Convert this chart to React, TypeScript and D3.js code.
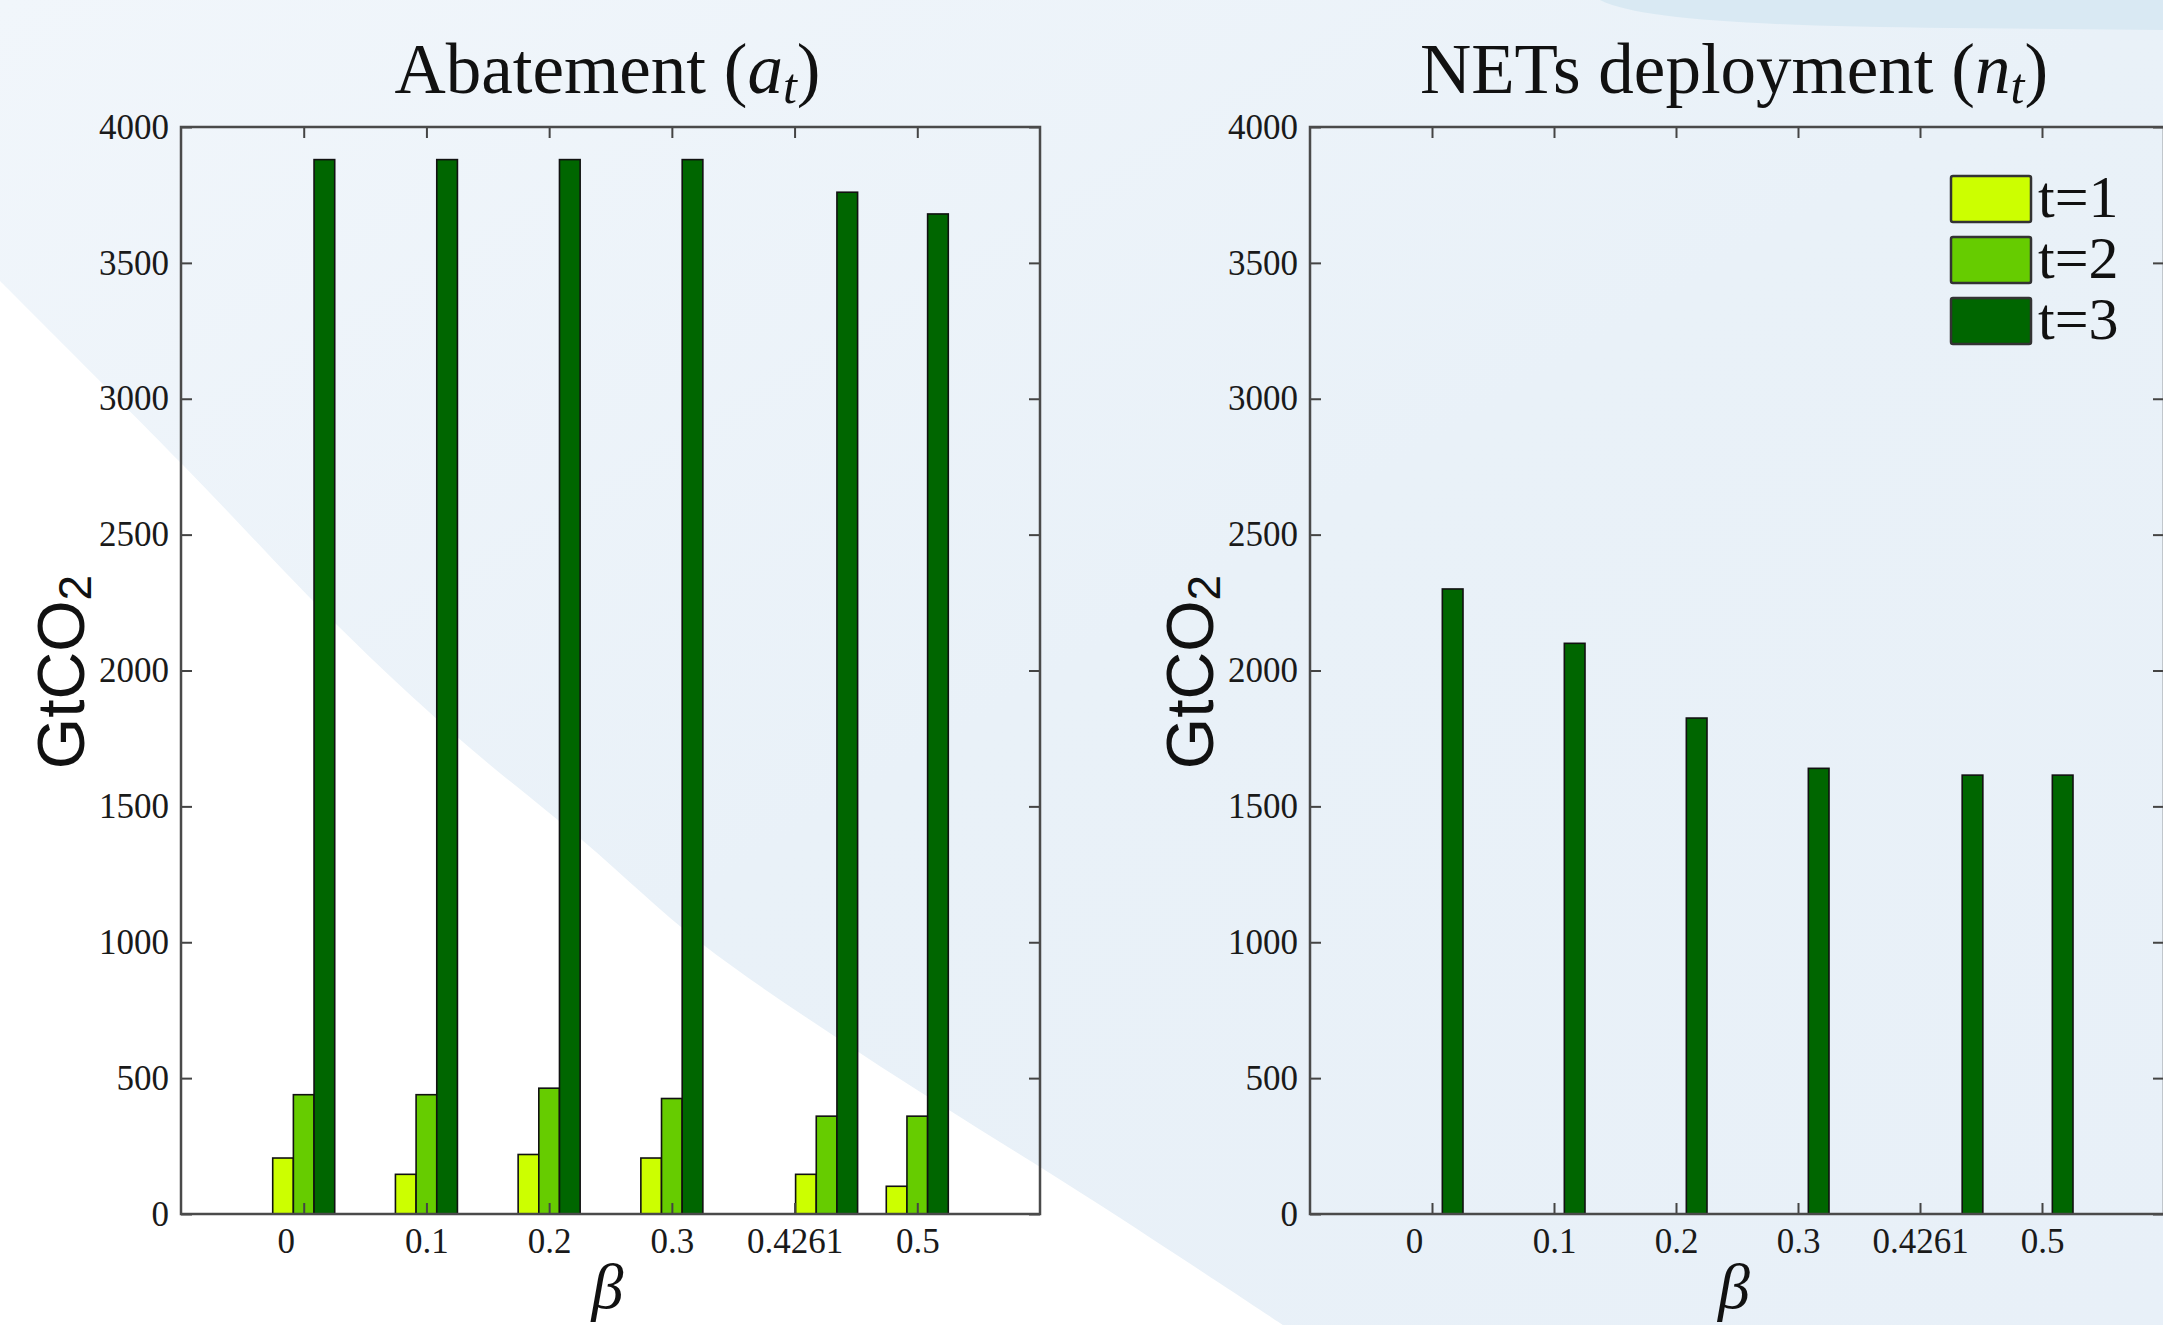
import * as d3 from 'd3';
import React, { useRef, useEffect } from 'react';

// beta values (bars are placed at these x values)
const betaValues = [0, 0.1, 0.2, 0.3, 0.4261, 0.5];
// tick positions and their (odd) labels
const xTickValues = [0, 0.1, 0.2, 0.3, 0.4, 0.5];
const xTickLabels = ['0', '0.1', '0.2', '0.3', '0.4261', '0.5'];
const yTickValues = [0, 500, 1000, 1500, 2000, 2500, 3000, 3500, 4000];

const seriesNames = ['t=1', 't=2', 't=3'];
const seriesColors = ['#ccff00', '#66cc00', '#006600'];

// Abatement (a_t)
const abatementT1 = [206, 146, 219, 206, 146, 102];
const abatementT2 = [439, 439, 463, 425, 360, 360];
const abatementT3 = [3880, 3880, 3880, 3880, 3760, 3680];

// NETs deployment (n_t)
const netsT1 = [0, 0, 0, 0, 0, 0];
const netsT2 = [0, 0, 0, 0, 0, 0];
const netsT3 = [2300, 2100, 1825, 1640, 1615, 1615];

const W = 2163;
const H = 1325;

function App() {
  const ref = useRef(null);

  useEffect(() => {
    draw();
  }, []);

  const draw = () => {
    const svg = d3.select(ref.current);
    svg.selectAll('*').remove();

    // background decoration
    const defs = svg.append('defs');
    const grad = defs.append('linearGradient')
      .attr('id', 'bg')
      .attr('x1', '0').attr('y1', '0').attr('x2', '1').attr('y2', '1');
    grad.append('stop').attr('offset', '0').attr('stop-color', '#f1f6fb');
    grad.append('stop').attr('offset', '0.5').attr('stop-color', '#e9f1f8');
    grad.append('stop').attr('offset', '1').attr('stop-color', '#e8f0f8');

    svg.append('rect').attr('width', W).attr('height', H).attr('fill', 'url(#bg)');

    const edge = [[0, 281], [182, 464], [337, 625], [456, 736], [582, 840], [701, 943], [863, 1055], [1100, 1205], [1283, 1325]];
    const edgeLine = d3.line().curve(d3.curveCatmullRom);
    svg.append('path')
      .attr('d', edgeLine(edge as any) + 'L0,1325Z')
      .attr('fill', '#ffffff');

    svg.append('path')
      .attr('d', 'M1600,0 C1640,20 1760,26 1950,28 L2163,30 L2163,0 Z')
      .attr('fill', '#d9e9f3');

    const y = d3.scaleLinear().domain([0, 4000]).range([1214, 127]);

    const panels = [
      { title: 'Abatement', sym: 'a', left: 181, right: 1040, series: [abatementT1, abatementT2, abatementT3], legend: false },
      { title: 'NETs deployment', sym: 'n', left: 1310, right: 2164, series: [netsT1, netsT2, netsT3], legend: true },
    ];

    panels.forEach((p) => {
      const x = d3.scaleLinear().domain([-0.1, 0.6]).range([p.left, p.right]);
      const sub = d3.scaleBand().domain(seriesNames).range([-31, 31]).paddingInner(0);
      const g = svg.append('g');

      // bars
      seriesNames.forEach((name, si) => {
        const vals = p.series[si];
        g.append('g')
          .selectAll('rect')
          .data(betaValues.map((b, i) => ({ b, v: vals[i] })).filter((d) => d.v > 0))
          .join('rect')
          .attr('x', (d) => x(d.b) + sub(name))
          .attr('width', sub.bandwidth())
          .attr('y', (d) => y(d.v))
          .attr('height', (d) => y(0) - y(d.v))
          .attr('fill', seriesColors[si])
          .attr('stroke', '#111')
          .attr('stroke-width', 1.6);
      });

      // axes (inside ticks, MATLAB style)
      const styleAxis = (sel) => {
        sel.select('.domain').remove();
        sel.selectAll('line').attr('stroke', '#444').attr('stroke-width', 2);
        sel.selectAll('text')
          .attr('fill', '#1a1a1a')
          .attr('font-family', '"Liberation Serif", "Times New Roman", serif')
          .attr('font-size', 35);
      };

      const bottom = g.append('g')
        .attr('transform', `translate(0,${y(0)})`)
        .call(d3.axisBottom(x).tickValues(xTickValues).tickFormat((d, i) => xTickLabels[i]).tickSize(-11).tickPadding(14))
        .call(styleAxis);
      // the single-character label sits a bit left of its tick in the original
      bottom.selectAll('text').filter((d, i) => xTickLabels[i].length === 1).attr('dx', -18);

      g.append('g')
        .attr('transform', `translate(0,${y(4000)})`)
        .call(d3.axisTop(x).tickValues(xTickValues).tickFormat(() => '').tickSize(-11))
        .call(styleAxis);
      g.append('g')
        .attr('transform', `translate(${p.left},0)`)
        .call(d3.axisLeft(y).tickValues(yTickValues).tickFormat(d3.format('d')).tickSize(-11).tickPadding(12))
        .call(styleAxis);
      g.append('g')
        .attr('transform', `translate(${p.right},0)`)
        .call(d3.axisRight(y).tickValues(yTickValues).tickFormat(() => '').tickSize(-11))
        .call(styleAxis);

      // frame
      g.append('rect')
        .attr('x', p.left).attr('y', y(4000))
        .attr('width', p.right - p.left).attr('height', y(0) - y(4000))
        .attr('fill', 'none').attr('stroke', '#4a4a4a').attr('stroke-width', 2.5);

      const cx = (p.left + p.right) / 2 - 3;

      // title
      const t = g.append('text')
        .attr('x', cx).attr('y', 93)
        .attr('text-anchor', 'middle')
        .attr('font-family', '"Liberation Serif", "Times New Roman", serif')
        .attr('font-size', 71)
        .attr('fill', '#111');
      t.append('tspan').text(p.title + ' (');
      t.append('tspan').attr('font-style', 'italic').text(p.sym);
      t.append('tspan').attr('font-style', 'italic').attr('font-size', 50).attr('dy', 10).text('t');
      t.append('tspan').attr('dy', -10).text(')');

      // x label
      g.append('text')
        .attr('x', cx).attr('y', 1308)
        .attr('text-anchor', 'middle')
        .attr('font-family', '"Liberation Serif", "Times New Roman", serif')
        .attr('font-style', 'italic')
        .attr('font-size', 64)
        .attr('fill', '#111')
        .text('β');

      // y label
      const yl = g.append('text')
        .attr('transform', `translate(${p.left - 120},672) rotate(-90)`)
        .attr('text-anchor', 'middle')
        .attr('dominant-baseline', 'central')
        .attr('font-family', '"Liberation Sans", Arial, sans-serif')
        .attr('font-size', 66)
        .attr('fill', '#111');
      yl.append('tspan').text('GtCO');
      yl.append('tspan').attr('font-size', 46).attr('dy', 14).text('2');

      // legend
      if (p.legend) {
        const lg = g.append('g').attr('transform', `translate(${p.right - 213},176)`);
        seriesNames.forEach((name, i) => {
          lg.append('rect')
            .attr('x', 0).attr('y', i * 61)
            .attr('width', 80).attr('height', 46)
            .attr('rx', 2)
            .attr('fill', seriesColors[i])
            .attr('stroke', '#333').attr('stroke-width', 2.5);
          lg.append('text')
            .attr('x', 87).attr('y', i * 61 + 41)
            .attr('font-family', '"Liberation Serif", "Times New Roman", serif')
            .attr('font-size', 60)
            .attr('fill', '#111')
            .text(name);
        });
      }
    });
  };

  return (
    <div style={{ position: 'absolute', left: 0, top: 0 }}>
      <svg ref={ref} width={W} height={H} style={{ display: 'block' }}></svg>
    </div>
  );
}

export default App;
